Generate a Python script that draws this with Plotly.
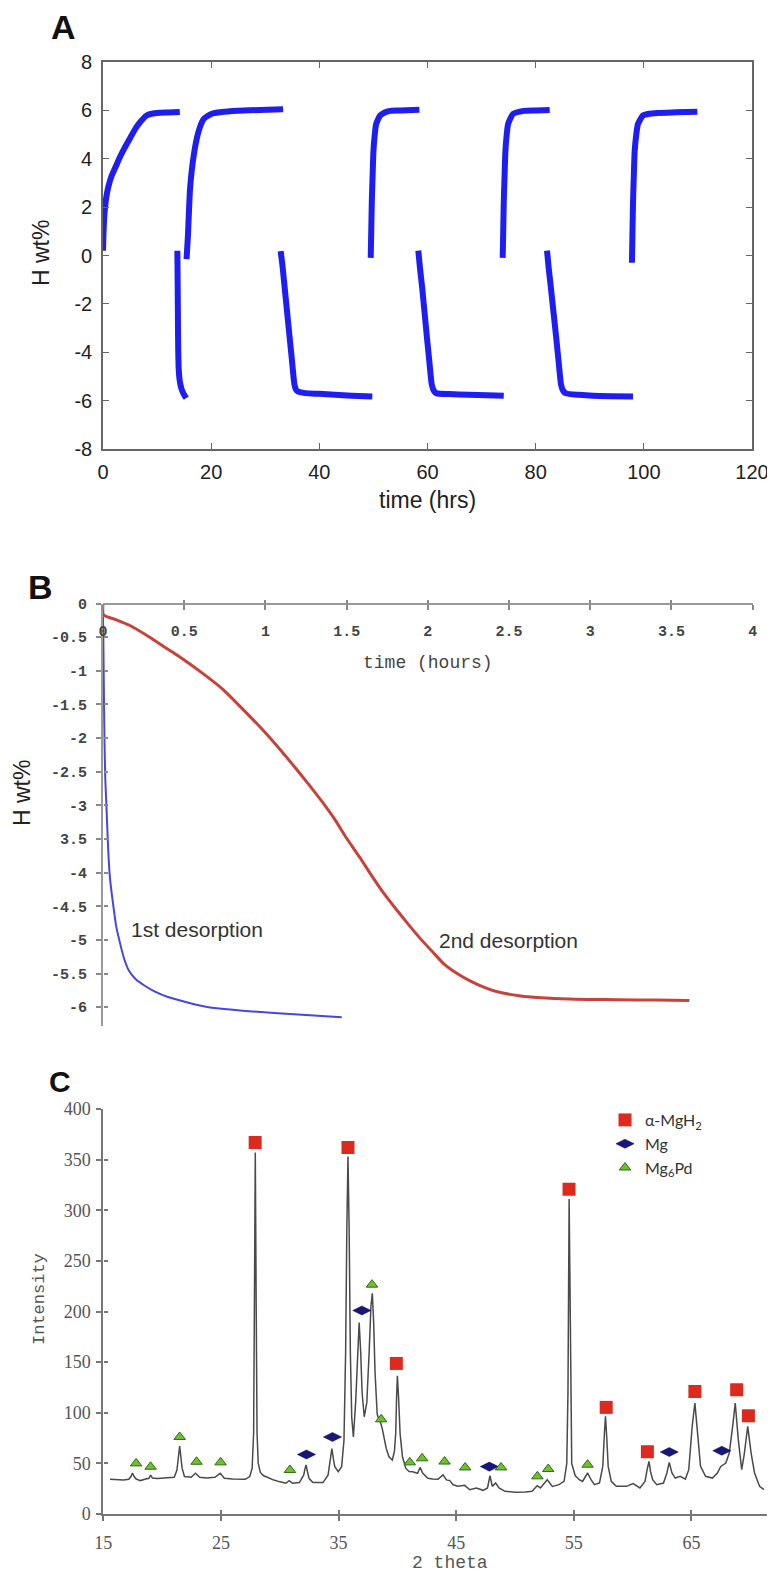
import plotly.graph_objects as go

# ---------------- Panel A: cycling (time in hrs, H wt%) ----------------
abs1_t = [0, 0.1, 0.3, 0.6, 1.0, 1.6, 2.4, 3.2, 4.0, 5.0, 6.0, 7.0, 8.0, 9.0, 10.5, 12.0, 14.2]
abs1_w = [0.2, 1.0, 1.8, 2.4, 2.85, 3.3, 3.7, 4.1, 4.45, 4.85, 5.25, 5.55, 5.78, 5.86, 5.9, 5.91, 5.93]
des1_t = [13.75, 13.8, 13.85, 13.9, 14.0, 14.2, 14.5, 14.9, 15.2, 15.4]
des1_w = [0.2, -1.0, -2.5, -3.8, -4.7, -5.2, -5.5, -5.72, -5.83, -5.9]
abs2_t = [15.45, 15.7, 16.1, 16.8, 17.7, 18.6, 20.0, 22.0, 25.0, 29.0, 33.3]
abs2_w = [-0.15, 0.8, 2.77, 4.17, 5.15, 5.64, 5.85, 5.93, 5.98, 6.02, 6.05]
des2_t = [32.85, 33.2, 33.6, 34.2, 34.9, 35.4, 35.7, 36.0, 37.4, 40.0, 42.9, 46.0, 49.8]
des2_w = [0.18, -0.45, -1.35, -2.7, -4.25, -5.34, -5.55, -5.62, -5.69, -5.72, -5.76, -5.8, -5.83]
abs3_t = [49.5, 49.6, 49.7, 49.85, 50.0, 50.25, 50.5, 51.2, 52.0, 53.0, 55.0, 58.5]
abs3_w = [-0.1, 1.0, 2.2, 3.3, 4.3, 5.0, 5.43, 5.78, 5.9, 5.98, 6.0, 6.03]
des3_t = [58.3, 58.6, 59.0, 59.45, 59.9, 60.35, 60.8, 61.2, 61.7, 64.0, 67.7, 71.0, 74.1]
des3_w = [0.2, -0.5, -1.3, -2.35, -3.4, -4.4, -5.35, -5.6, -5.7, -5.73, -5.76, -5.78, -5.8]
abs4_t = [73.9, 74.0, 74.1, 74.25, 74.4, 74.65, 74.9, 75.8, 77.8, 80.0, 82.6]
abs4_w = [-0.1, 1.0, 2.2, 3.3, 4.3, 5.0, 5.43, 5.85, 5.98, 6.0, 6.02]
des4_t = [82.1, 82.4, 82.8, 83.3, 83.8, 84.25, 84.7, 85.1, 85.6, 88.0, 90.6, 94.0, 98.0]
des4_w = [0.2, -0.5, -1.3, -2.35, -3.4, -4.4, -5.35, -5.6, -5.7, -5.76, -5.8, -5.82, -5.83]
abs5_t = [97.8, 97.9, 98.0, 98.15, 98.3, 98.6, 98.9, 99.8, 101.0, 102.6, 106.0, 109.9]
abs5_w = [-0.3, 1.0, 2.2, 3.3, 4.3, 5.0, 5.43, 5.78, 5.86, 5.89, 5.92, 5.94]

a_xticks = [0, 20, 40, 60, 80, 100, 120]
a_yticks = [8, 6, 4, 2, 0, -2, -4, -6, -8]
a_ytext = ["8", "6", "4", "2", "0", "-2", "-4", "-6", "-8"]

# ---------------- Panel B: desorption (time in hours, H wt%) ----------------
des1st_t = [0, 0.002, 0.005, 0.009, 0.014, 0.021, 0.03, 0.04, 0.052, 0.064, 0.08, 0.10,
            0.13, 0.16, 0.2, 0.25, 0.32, 0.40, 0.52, 0.65, 0.8, 0.95, 1.2, 1.47]
des1st_w = [-0.2, -0.5, -1.2, -2.0, -2.6, -3.0, -3.55, -4.0, -4.28, -4.5, -4.78, -5.0,
            -5.28, -5.46, -5.58, -5.67, -5.77, -5.85, -5.93, -6.0, -6.04, -6.07, -6.11, -6.15]
des2nd_t = [0, 0.003, 0.08, 0.16, 0.28, 0.4, 0.5, 0.62, 0.74, 0.86, 0.98, 1.09, 1.19, 1.27,
            1.35, 1.43, 1.5, 1.58, 1.65, 1.72, 1.8, 1.88, 1.95, 2.03, 2.1, 2.18, 2.26, 2.34,
            2.41, 2.56, 2.7, 2.87, 3.0, 3.17, 3.4, 3.61]
des2nd_w = [0, -0.17, -0.24, -0.32, -0.49, -0.68, -0.84, -1.05, -1.28, -1.57, -1.87, -2.17,
            -2.46, -2.7, -2.95, -3.22, -3.49, -3.77, -4.03, -4.28, -4.53, -4.77, -4.97, -5.18,
            -5.36, -5.5, -5.61, -5.7, -5.76, -5.83, -5.86, -5.88, -5.885, -5.89, -5.895, -5.9]
b_xticks = [0, 0.5, 1, 1.5, 2, 2.5, 3, 3.5, 4]
b_xtext = ["0", "0.5", "1", "1.5", "2", "2.5", "3", "3.5", "4"]
b_yticks = [0, -0.5, -1, -1.5, -2, -2.5, -3, -3.5, -4, -4.5, -5, -5.5, -6]
b_ytext = ["0", "-0.5", "-1", "-1.5", "-2", "-2.5", "-3", "3.5", "-4", "-4.5", "-5", "-5.5", "-6"]

# ---------------- Panel C: XRD pattern ----------------
xrd_2theta = [15.57, 16.2, 16.72, 17.16, 17.35, 17.48, 17.62, 17.8, 18.16, 18.6, 18.88, 19.02,
              19.18, 19.6, 20.2, 20.7, 21.03, 21.26, 21.4, 21.49, 21.58, 21.7, 21.9, 22.47,
              22.84, 23.19, 23.8, 24.48, 24.94, 25.29, 26.0, 26.6, 27.07, 27.45, 27.65, 27.78,
              27.85, 27.92, 28.0, 28.07, 28.17, 28.35, 28.6, 29.08, 29.5, 29.94, 30.52, 30.8,
              31.09, 31.67, 32.04, 32.15, 32.24, 32.35, 32.5, 32.82, 33.68, 34.11, 34.3, 34.43,
              34.55, 34.68, 34.97, 35.26, 35.46, 35.6, 35.7, 35.8, 35.9, 36.0, 36.12, 36.26,
              36.45, 36.6, 36.75, 36.88, 37.0, 37.18, 37.4, 37.6, 37.75, 37.87, 37.98, 38.1,
              38.28, 38.45, 38.56, 38.7, 38.85, 39.05, 39.28, 39.57, 39.75, 39.86, 39.93, 40.0,
              40.1, 40.23, 40.43, 40.72, 41.0, 41.29, 41.72, 41.93, 42.16, 42.59, 43.0, 43.45,
              43.88, 44.17, 44.45, 44.74, 45.14, 45.72, 46.15, 46.72, 47.29, 47.66, 47.87, 48.07,
              48.35, 48.64, 49.15, 50.01, 50.87, 51.45, 51.88, 52.16, 52.74, 53.17, 53.74, 54.17,
              54.4, 54.5, 54.6, 54.72, 54.82, 55.11, 55.46, 55.74, 56.17, 56.46, 56.75, 57.18,
              57.46, 57.6, 57.69, 57.8, 57.92, 58.18, 58.61, 59.47, 60.04, 60.62, 61.05, 61.25,
              61.39, 61.52, 61.7, 62.05, 62.62, 62.91, 63.11, 63.34, 63.62, 64.05, 64.48, 64.77,
              65.06, 65.29, 65.54, 65.77, 66.2, 66.78, 67.2, 67.49, 67.92, 68.21, 68.5, 68.72,
              68.98, 69.27, 69.5, 69.78, 70.07, 70.36, 70.79, 71.16]
xrd_int = [34.3, 34, 33.7, 34.3, 37, 40.5, 37, 34.5, 33, 34.5, 35.3, 38.5,
           35.5, 35, 35.5, 36, 36.3, 43.5, 58, 67, 58, 45, 37, 36.3,
           40.2, 36.3, 35.5, 36.3, 40.2, 35.3, 34.5, 34, 34.3, 37, 45, 80,
           200, 357, 200, 80, 50, 41, 38, 35.3, 33.5, 32, 30.4, 33,
           30.4, 31, 38.6, 45, 48.4, 42, 35, 31, 31, 38.6, 52, 64.7,
           55, 46.7, 41.8, 46.7, 72.9, 160, 280, 353, 280, 160, 95, 76,
           110, 160, 189, 160, 120, 96, 110, 160, 205, 218, 190, 140,
           99, 92, 90.8, 85, 76, 65, 56.5, 53.3, 62, 80, 115, 136.6,
           115, 79.4, 56.5, 45, 42, 41.8, 40.2, 46, 40.2, 35.3, 34.5, 34.3,
           38.6, 33.7, 33, 28.8, 27.5, 28.3, 24, 25.7, 23.4, 25.7, 37.8, 27.3,
           30.6, 25.7, 22.4, 21.4, 21.7, 22.4, 28, 25.7, 33.9, 27.3, 29, 32.2,
           50, 120, 311, 120, 50, 38, 33.9, 32.2, 40.5, 33.9, 29, 30.6,
           47, 80, 96.4, 75, 47, 32.2, 27.3, 27.3, 30, 25.7, 32.2, 45,
           52, 42, 33.9, 29, 30.6, 40.5, 51, 40.5, 35.5, 37.2, 34.5, 43.8,
           86.5, 109.5, 73.4, 47, 37.2, 35.5, 40.5, 47, 50.3, 60.2, 86.5, 109.5,
           73.4, 43.8, 60.2, 86.5, 60.2, 40.5, 27.3, 24]

mgh2_2theta = [27.91, 35.8, 39.91, 54.59, 57.75, 61.25, 65.29, 68.84, 69.84]
mgh2_int = [367, 362, 148.7, 320.7, 105.3, 61.5, 121, 122.7, 97]
mg_2theta = [32.27, 34.48, 36.98, 47.82, 63.11, 67.58]
mg_int = [58.8, 76.1, 201, 46.8, 61.2, 62.5]
mg6pd_2theta = [17.79, 19.02, 21.49, 22.93, 24.97, 30.86, 37.84, 38.62, 41.05, 42.1, 44.01,
                45.76, 48.81, 51.9, 52.82, 56.17]
mg6pd_int = [50, 46.7, 76.1, 51.6, 51, 43.5, 226.5, 93.5, 51, 55, 51.8, 46, 46, 37.2, 44.4, 48.7]
c_xticks = [15, 25, 35, 45, 55, 65]
c_yticks = [0, 50, 100, 150, 200, 250, 300, 350, 400]

# ---------------- Figure ----------------
# the page body adds an 8 px offset, so the figure is drawn 8 px smaller
OFF = 8
W, H = 775 - OFF, 1578 - OFF
fig = go.Figure()

A_BLUE = "#1e1ef2"
for t, w in [(abs1_t, abs1_w), (des1_t, des1_w), (abs2_t, abs2_w), (des2_t, des2_w),
             (abs3_t, abs3_w), (des3_t, des3_w), (abs4_t, abs4_w), (des4_t, des4_w),
             (abs5_t, abs5_w)]:
    fig.add_trace(go.Scatter(x=t, y=w, mode="lines",
                             line=dict(color=A_BLUE, width=6, shape="spline", smoothing=0.5),
                             xaxis="x", yaxis="y", showlegend=False, hoverinfo="skip"))

fig.add_trace(go.Scatter(x=des2nd_t, y=des2nd_w, mode="lines",
                         line=dict(color="#c8423c", width=3, shape="spline", smoothing=0.6),
                         xaxis="x2", yaxis="y2", showlegend=False))
fig.add_trace(go.Scatter(x=des1st_t, y=des1st_w, mode="lines",
                         line=dict(color="#4646e0", width=2, shape="spline", smoothing=0.6),
                         xaxis="x2", yaxis="y2", showlegend=False))

fig.add_trace(go.Scatter(x=xrd_2theta, y=xrd_int, mode="lines",
                         line=dict(color="#4a4a4a", width=1.5),
                         xaxis="x3", yaxis="y3", showlegend=False))
fig.add_trace(go.Scatter(x=mgh2_2theta, y=mgh2_int, mode="markers", name="α-MgH<sub>2</sub>",
                         marker=dict(symbol="square", size=13, color="#dd2a1f",
                                     line=dict(width=0)),
                         xaxis="x3", yaxis="y3", legendgroup="g1"))
fig.add_trace(go.Scatter(x=mg_2theta, y=mg_int, mode="markers", name="Mg",
                         marker=dict(symbol="diamond-wide", size=13, color="#17177a",
                                     line=dict(width=0.5, color="#0c0c50")),
                         xaxis="x3", yaxis="y3", legendgroup="g2"))
fig.add_trace(go.Scatter(x=mg6pd_2theta, y=mg6pd_int, mode="markers", name="Mg<sub>6</sub>Pd",
                         marker=dict(symbol="triangle-up", size=10, color="#6cc22c",
                                     line=dict(width=1, color="#2f6a12")),
                         xaxis="x3", yaxis="y3", legendgroup="g3"))

# empty traces that carry the inner half of the crossing tick marks in B and C
fig.add_trace(go.Scatter(x=[None], y=[None], xaxis="x4", yaxis="y4",
                         showlegend=False, hoverinfo="skip"))
fig.add_trace(go.Scatter(x=[None], y=[None], xaxis="x5", yaxis="y5",
                         showlegend=False, hoverinfo="skip"))


def px_x(p):
    return (p - OFF) / W


def px_y(p):
    return 1 - (p - OFF) / H


sans = "Liberation Sans"
mono = "Liberation Mono"
serif = "Liberation Serif"

a_axis = dict(showline=True, mirror="ticks", linecolor="#666", linewidth=1.6,
              ticks="inside", ticklen=6, tickwidth=1.2, tickcolor="#666",
              showgrid=False, zeroline=False, automargin=False,
              tickfont=dict(family=sans, size=20, color="#222"))

b_xdom = [px_x(103), px_x(752.7)]
b_ydom = [px_y(1026), px_y(603.5)]
c_xdom = [px_x(103.3), 1.0]
c_ydom = [px_y(1514), px_y(1109)]
b_xrange = [0, 4]
b_yrange = [-6.28, 0]
c_xrange = [15, 72.1]
c_yrange = [0, 400]

inner = dict(showline=False, showgrid=False, zeroline=False, showticklabels=False,
             ticks="inside", ticklen=4, tickwidth=1.5, automargin=False)

fig.update_layout(
    width=W, height=H,
    margin=dict(l=0, r=0, t=0, b=0, pad=0, autoexpand=False),
    paper_bgcolor="white", plot_bgcolor="white",
    xaxis=dict(domain=[px_x(103), px_x(752)], anchor="y", range=[0, 120],
               tickvals=a_xticks, ticklabelstandoff=4, **a_axis),
    yaxis=dict(domain=[px_y(449), px_y(62)], anchor="x", range=[-8, 8],
               tickvals=a_yticks, ticktext=a_ytext, ticklabelstandoff=5, **a_axis),
    xaxis2=dict(domain=b_xdom, anchor="free", position=px_y(603.5),
                side="bottom", range=b_xrange, tickvals=b_xticks, ticktext=b_xtext,
                showline=True, linecolor="#999", linewidth=2, ticks="outside", ticklen=5,
                tickcolor="#888", tickwidth=1.5, showgrid=False, zeroline=False,
                ticklabelstandoff=8, automargin=False,
                tickfont=dict(family=mono, size=15, color="#444", weight="bold")),
    yaxis2=dict(domain=b_ydom, anchor="x2", range=b_yrange,
                tickvals=b_yticks, ticktext=b_ytext,
                showline=True, linecolor="#999", linewidth=2, ticks="outside", ticklen=5,
                tickcolor="#888", tickwidth=1.5, showgrid=False, zeroline=False,
                ticklabelstandoff=6, automargin=False,
                tickfont=dict(family=mono, size=15, color="#444", weight="bold")),
    xaxis4=dict(domain=b_xdom, anchor="free", position=px_y(603.5), side="bottom",
                overlaying="x2", range=b_xrange, tickvals=b_xticks, tickcolor="#888", **inner),
    yaxis4=dict(domain=b_ydom, anchor="free", position=px_x(103), side="left",
                overlaying="y2", range=b_yrange, tickvals=b_yticks, tickcolor="#888", **inner),
    xaxis3=dict(domain=c_xdom, anchor="y3", range=c_xrange,
                tickvals=c_xticks, showline=True, linecolor="#777", linewidth=2,
                ticks="outside", ticklen=5, tickcolor="#777", tickwidth=1.5,
                showgrid=False, zeroline=False, ticklabelstandoff=6, automargin=False,
                tickfont=dict(family=serif, size=18, color="#555")),
    yaxis3=dict(domain=c_ydom, anchor="x3", range=c_yrange,
                tickvals=c_yticks, showline=True, linecolor="#777", linewidth=2,
                ticks="outside", ticklen=5, tickcolor="#777", tickwidth=1.5,
                showgrid=False, zeroline=False, ticklabelstandoff=2, automargin=False,
                tickfont=dict(family=serif, size=18, color="#555")),
    xaxis5=dict(domain=c_xdom, anchor="free", position=c_ydom[0], side="bottom",
                overlaying="x3", range=c_xrange, tickvals=c_xticks, tickcolor="#777", **inner),
    yaxis5=dict(domain=c_ydom, anchor="free", position=c_xdom[0], side="left",
                overlaying="y3", range=c_yrange, tickvals=c_yticks, tickcolor="#777", **inner),
    legend=dict(x=px_x(605), y=px_y(1103), xanchor="left", yanchor="top",
                bgcolor="rgba(0,0,0,0)", borderwidth=0, tracegroupgap=0,
                font=dict(family="Lato", size=16, color="#333")),
    showlegend=True,
)

ann = []


def label(text, x, y, size, family=sans, color="#222", angle=0, bold=False):
    ann.append(dict(text=text, x=px_x(x), y=px_y(y), xref="paper", yref="paper",
                    showarrow=False, textangle=angle, xanchor="center", yanchor="middle",
                    font=dict(family=family, size=size, color=color,
                              weight="bold" if bold else "normal")))


label("A", 64, 27, 34, bold=True, color="#111")
label("B", 40, 587, 34, bold=True, color="#111")
label("C", 60, 1081, 30, bold=True, color="#111")
label("time (hrs)", 427, 500, 23)
label("H wt%", 41, 253, 23, angle=-90)
label("time (hours)", 428, 663, 18, family=mono, color="#444")
label("H wt%", 22, 793, 23, angle=-90)
label("1st desorption", 197, 929, 21, color="#333")
label("2nd desorption", 508, 940, 21, color="#333")
label("Intensity", 39, 1299, 17, family=mono, color="#555", angle=-90)
label("2 theta", 450, 1563, 18, family=mono, color="#555")
fig.update_layout(annotations=ann)

fig.write_html("out.html")
